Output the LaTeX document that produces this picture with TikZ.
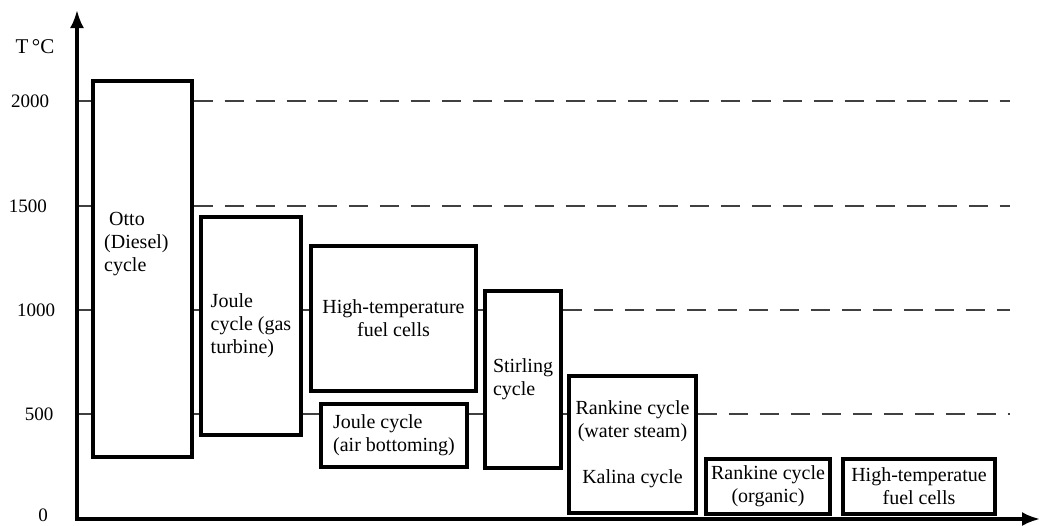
\documentclass[tikz,border=0pt]{standalone}
\usepackage{fontspec}
\setmainfont{Liberation Serif}
\usetikzlibrary{arrows.meta,backgrounds}

\tikzset{
  cyc/.style={draw, line width=3.2pt, fill=white, inner sep=0pt, font=\fontsize{20}{23}\selectfont},
  txt/.style={inner sep=0pt, font=\fontsize{20}{23}\selectfont},
  gline/.style={line width=1.3pt, black!75},
  gdash/.style={gline, dash pattern=on 19pt off 12pt},
  ticklab/.style={font=\fontsize{19}{22}\selectfont},
  axis/.style={line width=3.2pt, {Latex[length=18pt,width=14pt]}-{Latex[length=18pt,width=14pt]}}
}

\begin{document}
\begin{tikzpicture}[x=1pt,y=-1pt]
\useasboundingbox (0,0) rectangle (1040,525);

%%%%% Axes
\coordinate (O) at (77,519); \coordinate (xtip) at (1040,519); \coordinate (ytip) at (77,10);
\draw[axis] (ytip) -- (O) -- (xtip);

\node[ticklab, font=\fontsize{21}{24}\selectfont] (tlab) at (35,47) {T\,°C};
\node[ticklab] (t2000) at (30,101) {2000}; \node[ticklab] (t1500) at (28,206) {1500};
\node[ticklab] (t1000) at (36,310) {1000}; \node[ticklab] (t500) at (39,414) {500};
\node[ticklab] (t0) at (43,515) {0};

%%%%% Boxes
\node[cyc, minimum width=99pt, minimum height=376pt] (otto) at (142.5,269) {};
\node[txt, anchor=base west, align=left] (ottotxt) at (104,271) {\ Otto\\(Diesel)\\cycle};

\node[cyc, align=left, minimum width=100pt, minimum height=218pt] (joule) at (251,326) {Joule\\cycle (gas\\turbine)};
\node[cyc, align=center, minimum width=165pt, minimum height=145pt] (htfc) at (393.5,318.5) {High-temperature\\fuel cells};
\node[cyc, align=left, minimum width=146pt, minimum height=63pt] (jair) at (394,435.5) {Joule cycle\\(air bottoming)};
\node[cyc, align=left, minimum width=76pt, minimum height=177pt] (stirling) at (523,379.5) {Stirling\\cycle};
\node[cyc, align=center, minimum width=127pt, minimum height=137pt] (rankw) at (632.5,444.5) {Rankine cycle\\(water steam)\\[23pt]Kalina cycle};
\node[cyc, align=center, minimum width=124pt, minimum height=55pt] (ranko) at (768,486.5) {Rankine cycle\\(organic)};
\node[cyc, align=center, minimum width=152pt, minimum height=55pt] (htfcb) at (919,486.5) {High-temperatue\\fuel cells};

%%%%% Levels
\begin{scope}[on background layer]
\coordinate (g2000) at (77,101); \coordinate (e2000) at (1010,101);
\coordinate (g1500) at (77,206); \coordinate (e1500) at (1010,206);
\coordinate (g1000) at (77,310); \coordinate (e1000) at (1010,310);
\coordinate (g500) at (77,414); \coordinate (e500) at (1010,414);

\draw[gline] (g2000) -- (otto.east |- g2000); \draw[gdash] (otto.east |- g2000) -- (e2000);
\draw[gline] (g1500) -- (otto.east |- g1500); \draw[gdash] (otto.east |- g1500) -- (e1500);
\draw[gline] (g1000) -- (stirling.east |- g1000); \draw[gdash] (stirling.east |- g1000) -- (e1000);
\draw[gline] (g500) -- (rankw.east |- g500); \draw[gdash] (rankw.east |- g500) -- (e500);
\end{scope}

\end{tikzpicture}
\end{document}
